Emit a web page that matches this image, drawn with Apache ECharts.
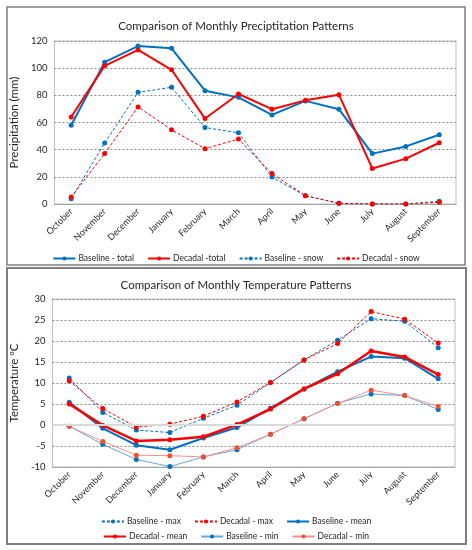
<!DOCTYPE html>
<html>
<head>
<meta charset="utf-8">
<script src="https://cdn.jsdelivr.net/npm/echarts@6/dist/echarts.min.js"></script>
<style>html,body{margin:0;padding:0;background:#fff;}#c{width:472px;height:550px;}</style>
</head>
<body>
<div id="c"></div>
<script>
var months = ['October','November','December','January','February','March','April','May','June','July','August','September'];
var precipTicks = [0, 20, 40, 60, 80, 100, 120];
var tempTicks = [-10, -5, 0, 5, 10, 15, 20, 25, 30];

var baseTotal = [58, 104.4, 116.3, 114.6, 83.4, 78.5, 65.6, 75.9, 69.8, 37.1, 42.4, 51];
var decTotal  = [64.1, 101.7, 113.4, 98.8, 62.9, 81, 69.8, 76.3, 80.5, 26.1, 33.4, 45.1];
var baseSnow  = [3.9, 44.9, 82.2, 85.9, 56.3, 52.4, 19.8, 6.1, 0.5, 0, 0, 2];
var decSnow   = [5.1, 37.1, 71.5, 54.6, 40.7, 47.8, 22.4, 6.1, 0.5, 0, 0, 1.2];

var baseMax  = [11.2, 3.0, -1.2, -1.8, 1.6, 4.7, 10.1, 15.5, 20.2, 25.3, 24.7, 18.4];
var decMax   = [10.5, 3.9, -0.5, 0.2, 2.1, 5.5, 10.1, 15.5, 19.4, 27.0, 25.2, 19.5];
var baseMean = [5.4, -0.8, -4.8, -5.9, -3.1, -0.6, 4.0, 8.6, 12.7, 16.3, 15.9, 11.0];
var decMean  = [5.0, -0.1, -3.8, -3.5, -2.8, 0.1, 3.8, 8.6, 12.2, 17.6, 16.2, 12.0];
var baseMin  = [-0.3, -4.6, -8.2, -9.9, -7.6, -5.9, -2.2, 1.5, 5.2, 7.4, 7.0, 3.7];
var decMin   = [-0.3, -3.9, -7.2, -7.3, -7.6, -5.4, -2.2, 1.5, 5.1, 8.3, 7.0, 4.4];

var BLUE = '#0070C0', RED = '#FF0000', LBLUE = '#5FA8E0', LRED = '#FF8C8C', ORANGE = '#F0502A';
var FONT = 'Lato';
var txt = '#262626';

function line(name, data, xi, color, width, type, symColor) {
  return {
    name: name, type: 'line', data: data, xAxisIndex: xi, yAxisIndex: xi,
    symbol: 'circle', symbolSize: 5,
    lineStyle: { color: color, width: width, type: type },
    itemStyle: { color: symColor || color },
    animation: false
  };
}

function xAx(gi) {
  return {
    type: 'category', gridIndex: gi, data: months, boundaryGap: true,
    axisLine: { show: true, onZero: false, lineStyle: { color: '#a6a6a6' } },
    axisTick: { show: false },
    axisLabel: { rotate: 45, fontSize: 9, color: txt, fontFamily: FONT, margin: 6, interval: 0 },
    splitLine: { show: false }
  };
}

function lg(data, top) {
  return { data: data, top: top, left: 'center', itemWidth: 22, itemHeight: 5, itemGap: 13,
    textStyle: { fontSize: 8.5, color: txt, fontFamily: FONT, padding: [0, 0, 0, -2] } };
}

var chart = echarts.init(document.getElementById('c'));
var s0 = line('Baseline - total', baseTotal, 0, BLUE, 2, 'solid');
var s1 = line('Decadal -total', decTotal, 0, RED, 2, 'solid');
var s2 = line('Baseline - snow', baseSnow, 0, BLUE, 1, [3, 2]);
var s3 = line('Decadal - snow', decSnow, 0, RED, 1, [3, 2]);
var t0 = line('Baseline - max', baseMax, 1, BLUE, 1, [3, 2]);
var t1 = line('Decadal - max', decMax, 1, RED, 1, [3, 2]);
var t2 = line('Baseline - mean', baseMean, 1, BLUE, 2, 'solid');
var t3 = line('Decadal - mean', decMean, 1, RED, 2.5, 'solid');
var t4 = line('Baseline - min', baseMin, 1, LBLUE, 1, 'solid', BLUE);
var t5 = line('Decadal - min', decMin, 1, LRED, 1, 'solid', ORANGE);
t5.markLine = {
  silent: true, symbol: 'none', label: { show: false },
  lineStyle: { color: '#d9d9d9', width: 2, type: 'solid' },
  data: [{ yAxis: 0 }], animation: false
};

chart.setOption({
  animation: false,
  backgroundColor: '#fff',
  textStyle: { fontFamily: FONT },
  graphic: [
    { type: 'rect', shape: { x: 7, y: 7, width: 458, height: 258 }, style: { fill: 'none', stroke: '#7f7f7f', lineWidth: 1.5 }, silent: true },
    { type: 'rect', shape: { x: 7, y: 268, width: 459, height: 276 }, style: { fill: 'none', stroke: '#7f7f7f', lineWidth: 2 }, silent: true }
  ],
  title: [
    { text: 'Comparison of Monthly Preciptitation Patterns', left: 'center', top: 15, textStyle: { fontSize: 11.5, fontWeight: 'normal', color: txt, fontFamily: FONT } },
    { text: 'Comparison of Monthly Temperature Patterns', left: 'center', top: 274, textStyle: { fontSize: 11.5, fontWeight: 'normal', color: txt, fontFamily: FONT } }
  ],
  legend: [
    lg(['Baseline - total', 'Decadal -total', 'Baseline - snow', 'Decadal - snow'], 249),
    lg(['Baseline - max', 'Decadal - max', 'Baseline - mean'], 512),
    lg(['Decadal - mean', 'Baseline - min', 'Decadal - min'], 527)
  ],
  grid: [
    { left: 49, right: 16, top: 41, bottom: 346, show: true, borderColor: '#bfbfbf', borderWidth: 1, backgroundColor: '#fff' },
    { left: 47, right: 17, top: 299, bottom: 83, show: true, borderColor: '#bfbfbf', borderWidth: 1, backgroundColor: '#fff' }
  ],
  xAxis: [xAx(0), xAx(1)],
  yAxis: [
    {
      type: 'value', gridIndex: 0, min: precipTicks[0], max: precipTicks[precipTicks.length - 1], interval: 20,
      name: 'Precipitation (mm)', nameLocation: 'middle', nameGap: 31, nameRotate: 90,
      nameTextStyle: { fontSize: 11.5, color: txt, fontFamily: FONT },
      axisLine: { show: false }, axisTick: { show: false },
      axisLabel: { fontSize: 9.5, color: txt, fontFamily: FONT, margin: 7 },
      splitLine: { show: true, lineStyle: { color: '#8c8c8c', type: [2, 2], width: 1 } }
    },
    {
      type: 'value', gridIndex: 1, min: tempTicks[0], max: tempTicks[tempTicks.length - 1], interval: 5,
      name: 'Temperature \u00baC', nameLocation: 'middle', nameGap: 30, nameRotate: 90,
      nameTextStyle: { fontSize: 11.5, color: txt, fontFamily: FONT },
      axisLine: { show: false }, axisTick: { show: false },
      axisLabel: { fontSize: 9.5, color: txt, fontFamily: FONT, margin: 7 },
      splitLine: { show: true, lineStyle: { color: '#8c8c8c', type: [2, 2], width: 1 } }
    }
  ],
  series: [s0, s1, s2, s3, t0, t1, t2, t3, t4, t5]
});
</script>
</body>
</html>
